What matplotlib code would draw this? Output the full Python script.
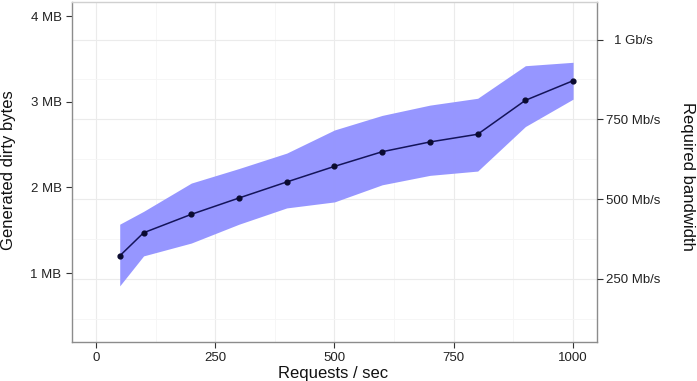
import matplotlib
matplotlib.use("Agg")
import matplotlib.pyplot as plt
import numpy as np

plt.rcParams['font.family'] = ['Liberation Sans', 'DejaVu Sans']

requests = [50, 100, 200, 300, 400, 500, 600, 700, 800, 900, 1000]
mean_mb = [1.20, 1.47, 1.685, 1.876, 2.063, 2.245, 2.416, 2.53, 2.62, 3.016, 3.245]
upper_mb = [1.57, 1.72, 2.05, 2.22, 2.40, 2.67, 2.84, 2.96, 3.04, 3.42, 3.46]
lower_mb = [0.85, 1.20, 1.35, 1.57, 1.76, 1.83, 2.03, 2.14, 2.19, 2.71, 3.03]

x_ticks = [0, 250, 500, 750, 1000]
x_minor = [125, 375, 625, 875]
mb_ticks = [1, 2, 3, 4]
mb_labels = ["1 MB", "2 MB", "3 MB", "4 MB"]
bw_ticks = [250, 500, 750, 1000]
bw_labels = ["250 Mb/s", "500 Mb/s", "750 Mb/s", "1 Gb/s"]
bw_minor = [125, 375, 625, 875]
MBPS_PER_MB = 268.4

fig = plt.figure(figsize=(6.97, 3.81), dpi=100)
ax = fig.add_axes([0.1033, 0.1024, 0.7532, 0.8924])
ylim = (0.195, 4.164)
xlim = (-50, 1050)

# grid
for v in x_ticks:
    ax.axvline(v, color='#ebebeb', lw=0.8, zorder=0)
for v in x_minor:
    ax.axvline(v, color='#f5f5f5', lw=0.6, zorder=0)
for v in bw_ticks:
    ax.axhline(v / MBPS_PER_MB, color='#ebebeb', lw=0.8, zorder=0)
for v in bw_minor:
    ax.axhline(v / MBPS_PER_MB, color='#f5f5f5', lw=0.6, zorder=0)

ax.fill_between(requests, lower_mb, upper_mb, color='#9393ff', alpha=0.97, lw=0, zorder=1)
ax.plot(requests, mean_mb, color='#14145a', lw=1.1, zorder=2)
ax.scatter(requests, mean_mb, color='#0a0a30', s=12, zorder=3)

ax.set_xlim(*xlim)
ax.set_ylim(*ylim)
ax.set_xticks(x_ticks)
ax.set_xticklabels([str(v) for v in x_ticks])
ax.set_yticks(mb_ticks)
ax.set_yticklabels(mb_labels)

for s in ['left', 'bottom', 'right']:
    ax.spines[s].set_color('#8c8c8c')
    ax.spines[s].set_linewidth(1.0)
ax.spines['top'].set_color('#d0d0d0')
ax.spines['top'].set_linewidth(1.0)

ax.tick_params(axis='both', which='major', direction='out', length=4, width=0.8,
               color='#333333', labelsize=9.5, labelcolor='#222222', pad=3.5)

ax2 = ax.twinx()
ax2.set_ylim(ylim[0] * MBPS_PER_MB, ylim[1] * MBPS_PER_MB)
ax2.set_yticks(bw_ticks)
ax2.set_yticklabels(bw_labels)
for s in ax2.spines.values():
    s.set_visible(False)
ax2.tick_params(axis='y', direction='out', length=4, width=0.8, color='#333333',
                labelsize=9.5, labelcolor='#222222', pad=22.3)
for lbl in ax2.get_yticklabels():
    lbl.set_horizontalalignment('center')

fig.text(333.5 / 697, 1 - 366 / 381, "Requests / sec", fontsize=12, color='#111111',
         ha='center', va='top')
fig.text(8.5 / 697, 1 - 170 / 381, "Generated dirty bytes", fontsize=12, color='#111111',
         ha='center', va='center', rotation=90)
fig.text(687 / 697, 1 - 176.5 / 381, "Required bandwidth", fontsize=12, color='#111111',
         ha='center', va='center', rotation=270)

fig.savefig("out.png", dpi=100)
